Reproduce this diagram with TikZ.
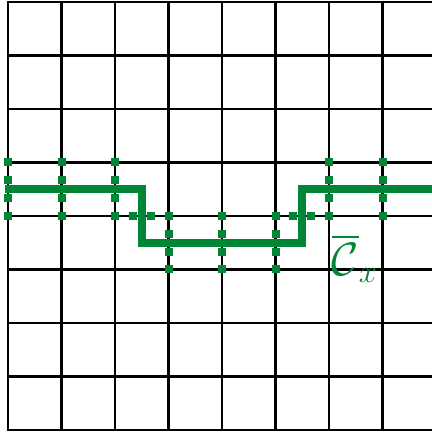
\documentclass[tikz,border=0pt]{standalone}
\usepackage{amsmath}
\definecolor{pathgreen}{RGB}{0,134,52}
\begin{document}
\begin{tikzpicture}[
  gridline/.style={black, line width=1.15pt},
  cutpath/.style={pathgreen, line width=4.1pt},
  sq/.style={fill=pathgreen},
]
\useasboundingbox (-0.15,0.037) rectangle (7.925,-8.037);
\begin{scope}
\clip (-0.15,0.037) rectangle (7.925,-8.037);
\foreach \i in {0,...,7} \draw[gridline] (\i,0.02) -- (\i,-8.02);
\foreach \j in {0,...,8} \draw[gridline] (-0.02,-\j) -- (8.5,-\j);
% squares
\foreach \c in {0,1,2,6,7} \foreach \r in {3,3.333,3.667,4}
  \fill[sq] (\c-0.075,-\r-0.075) rectangle (\c+0.075,-\r+0.075);
\foreach \c in {3,4,5} \foreach \r in {4,4.333,4.667,5}
  \fill[sq] (\c-0.075,-\r-0.075) rectangle (\c+0.075,-\r+0.075);
\foreach \c in {2.333,2.667,5.333,5.667}
  \fill[sq] (\c-0.075,-4-0.075) rectangle (\c+0.075,-4+0.075);
\draw[cutpath] (-0.06,-3.5) -- (2.5,-3.5) -- (2.5,-4.5) -- (5.5,-4.5) -- (5.5,-3.5) -- (8.5,-3.5);
\end{scope}
\node[text=pathgreen, font=\fontsize{24}{28}\selectfont] (lbl) at (6.48,-4.8) {$\overline{\mathcal{C}}_x$};
\end{tikzpicture}
\end{document}
